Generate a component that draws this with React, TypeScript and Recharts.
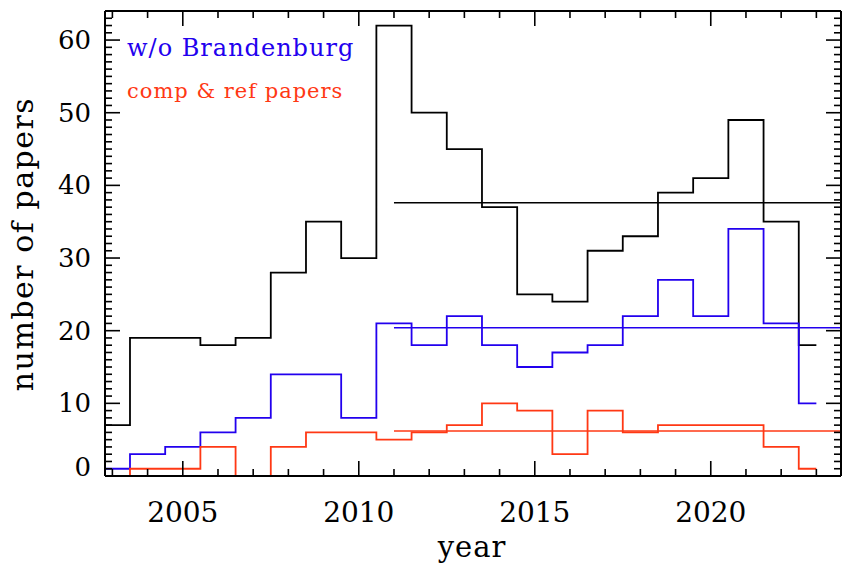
import { LineChart, Line, XAxis, YAxis, ReferenceLine } from "recharts";

// one bin per year, drawn as a centred histogram (steps at half years)
const years = [2003, 2004, 2005, 2006, 2007, 2008, 2009, 2010, 2011, 2012, 2013, 2014, 2015, 2016, 2017, 2018, 2019, 2020, 2021, 2022, 2023];
const allPapers = [7, 19, 19, 18, 19, 28, 35, 30, 62, 50, 45, 37, 25, 24, 31, 33, 39, 41, 49, 35, 18];
const withoutBrandenburg = [1, 3, 4, 6, 8, 14, 14, 8, 21, 18, 22, 18, 15, 17, 18, 22, 27, 22, 34, 21, 10];
const compRefPapers = [0, 1, 1, 4, 0, 4, 6, 6, 5, 6, 7, 10, 9, 3, 9, 6, 7, 7, 7, 4, 1];

// average levels drawn from 2011 onwards
const meanFrom = 2011;
const meanAll = 37.6;
const meanWithoutB = 20.4;
const meanComp = 6.2;

const xTicks = years;
const yTicks = Array.from({ length: 65 }, (_, i) => i);

const X_MIN = 2002.79;
const X_MAX = 2023.7;
const BLUE = "#2200ee";
const RED = "#ff3814";
const FONT = "'DejaVu Serif', serif";

// black and blue run off the left edge at their first value
const rows = [
  { year: 2002, all: allPapers[0], noB: withoutBrandenburg[0], comp: null as number | null },
  ...years.map((y, i) => ({ year: y, all: allPapers[i], noB: withoutBrandenburg[i], comp: compRefPapers[i] as number | null })),
];

function XTick({ x, y, payload, top }: any) {
  const major = payload.value % 5 === 0;
  const len = major ? 15 : 7;
  return (
    <g>
      <line x1={x} x2={x} y1={y} y2={top ? y + len : y - len} stroke="#000" strokeWidth={1.6} />
      {!top && major && (
        <text x={x} y={y + 46} textAnchor="middle" fontFamily={FONT} fontSize={28} fill="#000">
          {payload.value}
        </text>
      )}
    </g>
  );
}

function YTick({ x, y, payload, right }: any) {
  const major = payload.value % 10 === 0;
  const len = major ? 15 : 7;
  return (
    <g>
      <line x1={x} x2={right ? x - len : x + len} y1={y} y2={y} stroke="#000" strokeWidth={1.6} />
      {!right && major && (
        <text x={x - 14} y={payload.value === 0 ? y : y + 9} textAnchor="end" fontFamily={FONT} fontSize={26} fill="#000">
          {payload.value}
        </text>
      )}
    </g>
  );
}

export default function App() {
  const axisLine = { stroke: "#000", strokeWidth: 2 };
  return (
    <div style={{ position: "absolute", left: 0, top: 0, width: 848, height: 563, background: "#fff" }}>
      <LineChart width={848} height={563} data={rows} margin={{ top: 10, right: 6, left: 0, bottom: 0 }}>
        <XAxis dataKey="year" type="number" domain={[X_MIN, X_MAX]} allowDataOverflow ticks={xTicks} interval={0}
          height={87} tickSize={0} tickMargin={0} axisLine={axisLine} tickLine={false} tick={<XTick />} />
        <XAxis xAxisId="top" dataKey="year" orientation="top" type="number" domain={[X_MIN, X_MAX]} allowDataOverflow ticks={xTicks} interval={0}
          height={1} tickSize={0} tickMargin={0} axisLine={axisLine} tickLine={false} tick={<XTick top />} />
        <YAxis type="number" domain={[0, 64]} allowDataOverflow ticks={yTicks} interval={0}
          width={105} tickSize={0} tickMargin={0} axisLine={axisLine} tickLine={false} tick={<YTick />} />
        <YAxis yAxisId="right" orientation="right" type="number" domain={[0, 64]} allowDataOverflow ticks={yTicks} interval={0}
          width={1} tickSize={0} tickMargin={0} axisLine={axisLine} tickLine={false} tick={<YTick right />} />

        <Line dataKey="all" type="step" stroke="#000" strokeWidth={1.8} dot={false} isAnimationActive={false} />
        <Line dataKey="noB" type="step" stroke={BLUE} strokeWidth={1.8} dot={false} isAnimationActive={false} />
        <Line dataKey="comp" type="step" stroke={RED} strokeWidth={1.8} dot={false} isAnimationActive={false} />

        <ReferenceLine segment={[{ x: meanFrom, y: meanAll }, { x: X_MAX, y: meanAll }]} stroke="#000" strokeWidth={1.6} />
        <ReferenceLine segment={[{ x: meanFrom, y: meanWithoutB }, { x: X_MAX, y: meanWithoutB }]} stroke={BLUE} strokeWidth={1.6} />
        <ReferenceLine segment={[{ x: meanFrom, y: meanComp }, { x: X_MAX, y: meanComp }]} stroke={RED} strokeWidth={1.6} />
      </LineChart>

      <svg width={848} height={563} style={{ position: "absolute", left: 0, top: 0, pointerEvents: "none" }}>
        <text x={127} y={56} fontFamily={FONT} fontSize={24} letterSpacing={1} fill={BLUE}>w/o Brandenburg</text>
        <text x={127} y={98} fontFamily={FONT} fontSize={21} letterSpacing={1} fill={RED}>comp &amp; ref papers</text>
        <text x={472} y={557} textAnchor="middle" fontFamily={FONT} fontSize={29} letterSpacing={1} fill="#000">year</text>
        <text transform="translate(33,244) rotate(-90)" textAnchor="middle" fontFamily={FONT} fontSize={30} letterSpacing={1.5} fill="#000">
          number of papers
        </text>
      </svg>
    </div>
  );
}
